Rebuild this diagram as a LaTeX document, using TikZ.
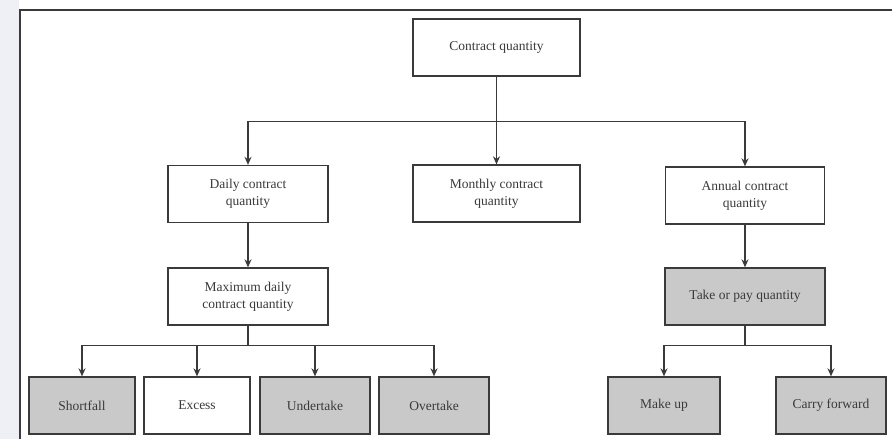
\documentclass[tikz,border=0pt]{standalone}
\usepackage{fontspec}
\setmainfont{Liberation Serif}
\usetikzlibrary{arrows.meta}
\definecolor{ink}{HTML}{3A3A3A}
\definecolor{boxgray}{HTML}{C9C9C9}
\definecolor{bleed}{HTML}{EEF0F5}
\tikzset{
  box/.style={draw=ink, line width=1.3pt, fill=white, minimum height=57pt,
    align=center, inner sep=2pt, text=ink,
    font=\fontsize{13.5}{17}\selectfont},
  graybox/.style={box, fill=boxgray},
  conn/.style={draw=ink, line width=1.3pt},
  arr/.style={conn, -{Stealth[length=8pt,width=7pt]}},
  frameline/.style={draw=ink, line width=1.5pt}
}
\begin{document}
\begin{tikzpicture}[x=1pt,y=-1pt]
\useasboundingbox (0,0) rectangle (892,439);
\fill[bleed] (0,0) rectangle (19,439);
\coordinate (fA) at (20,439);
\coordinate (fB) at (20,10);
\coordinate (fC) at (892,10);
\draw[frameline] (fA) -- (fB) -- (fC);

\node[box, minimum width=167pt] (cq) at (496.5,47.5) {Contract quantity};
\node[box, minimum width=160pt] (daily) at (248,194) {Daily contract\\quantity};
\node[box, minimum width=167pt] (monthly) at (496.5,193.5) {Monthly contract\\quantity};
\node[box, minimum width=159pt] (annual) at (745,195.5) {Annual contract\\quantity};
\node[box, minimum width=160pt] (maxd) at (248,296.5) {Maximum daily\\contract quantity};
\node[graybox, minimum width=160pt] (top) at (745,296.5) {Take or pay quantity};

\node[graybox, minimum width=106pt] (shortfall) at (82,405.5) {Shortfall};
\node[box, minimum width=106pt] (excess) at (197,405.5) {Excess};
\node[graybox, minimum width=110pt] (undertake) at (315,405.5) {Undertake};
\node[graybox, minimum width=110pt] (overtake) at (434,405.5) {Overtake};
\node[graybox, minimum width=112pt] (makeup) at (664,405.5) {Make up};
\node[graybox, minimum width=110pt] (carry) at (831,405.5) {Carry forward};

% top level
\draw[arr] (cq.south) -- (monthly.north);
\draw[arr] (cq.south) -- ++(0,45) -| (daily.north);
\draw[arr] (cq.south) -- ++(0,45) -| (annual.north);
\draw[arr] (daily) -- (maxd);
\draw[arr] (annual) -- (top);

% lower left
\draw[arr] (maxd.south) -- ++(0,20) -| (shortfall.north);
\draw[arr] (maxd.south) -- ++(0,20) -| (excess.north);
\draw[arr] (maxd.south) -- ++(0,20) -| (undertake.north);
\draw[arr] (maxd.south) -- ++(0,20) -| (overtake.north);

% lower right
\draw[arr] (top.south) -- ++(0,20) -| (makeup.north);
\draw[arr] (top.south) -- ++(0,20) -| (carry.north);
\end{tikzpicture}
\end{document}
